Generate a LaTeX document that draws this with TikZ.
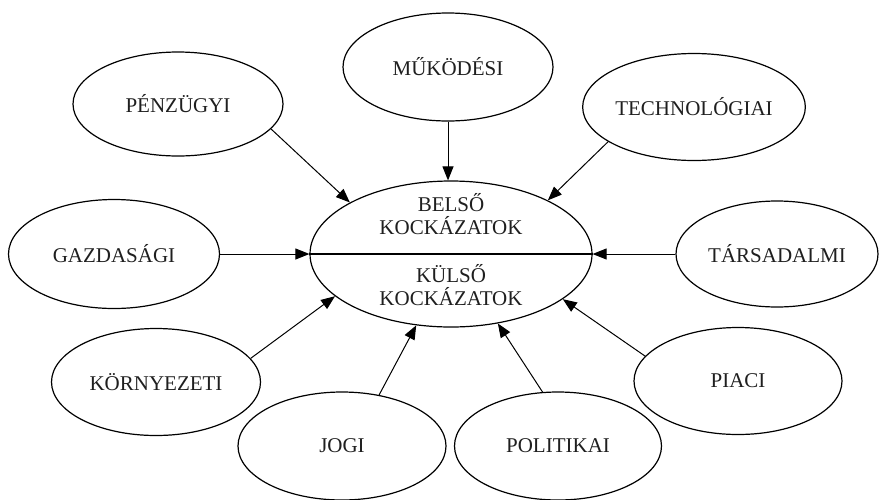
\documentclass[tikz,border=0pt]{standalone}
\usepackage{fontspec}
\setmainfont{Liberation Serif}
\usetikzlibrary{shapes.geometric,arrows.meta}
\begin{document}
\begin{tikzpicture}[x=1pt,y=-1pt,
  risk/.style={ellipse,draw,line width=1.2pt,inner sep=0pt,
    minimum width=208pt,minimum height=106pt,
    font=\fontsize{21}{23}\selectfont,text=black!88},
  lbl/.style={align=center,inner sep=0pt,
    font=\fontsize{21}{23}\selectfont,text=black!88},
  arr/.style={line width=1pt,-{Triangle[length=14pt,width=11pt]}}]
\useasboundingbox (0,0) rectangle (880,499);
% central ellipse
\node[ellipse,draw,line width=1.2pt,minimum width=282pt,minimum height=146pt,inner sep=0pt] (c) at (451,254) {};
\draw[line width=1.2pt] (c.west) -- (c.east);
\node[lbl] (belso) at (451,214) {BELSŐ\\KOCKÁZATOK};
\node[lbl] (kulso) at (451,285) {KÜLSŐ\\KOCKÁZATOK};
% surrounding ellipses
\node[risk,minimum width=210pt,minimum height=108pt] (muk) at (448,67) {MŰKÖDÉSI};
\node[risk,minimum width=210pt,minimum height=104pt] (pen) at (178,104) {PÉNZÜGYI};
\node[risk,minimum width=211pt,minimum height=107pt] (tech) at (694,107) {TECHNOLÓGIAI};
\node[risk,minimum width=211pt,minimum height=109pt] (gaz) at (114,254) {GAZDASÁGI};
\node[risk,minimum width=202pt,minimum height=106pt] (tar) at (777,254) {TÁRSADALMI};
\node[risk,minimum width=209pt,minimum height=107pt] (kor) at (156,382) {KÖRNYEZETI};
\node[risk,minimum width=208pt,minimum height=108pt] (jogi) at (342,446) {JOGI};
\node[risk,minimum width=207pt,minimum height=108pt] (pol) at (558,446) {POLITIKAI};
\node[risk,minimum width=208pt,minimum height=107pt] (pia) at (738,381) {PIACI};
% connectors
\draw[arr] (muk.south) -- (muk.south |- c.north);
\draw[arr] (pen.-15.5) -- (c.153.9);
\draw[arr] (tech.202.4) -- (c.29.8);
\draw[arr] (gaz.east) -- (c.west);
\draw[arr] (tar.west) -- (c.east);
\draw[arr] (kor.14.6) -- (c.200.8);
\draw[arr] (jogi.54.4) -- (c.244.4);
\draw[arr] (pol.106.8) -- (c.304.6);
\draw[arr] (pia.165.8) -- (c.338.9);
\end{tikzpicture}
\end{document}
